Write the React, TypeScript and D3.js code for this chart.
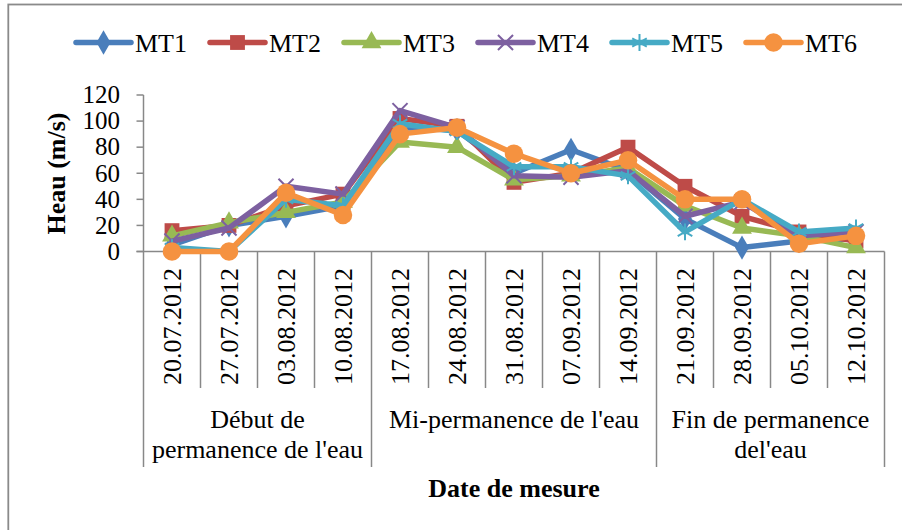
import React from "react";
import * as d3 from "d3";

const categories = [
  "20.07.2012", "27.07.2012", "03.08.2012", "10.08.2012", "17.08.2012",
  "24.08.2012", "31.08.2012", "07.09.2012", "14.09.2012", "21.09.2012",
  "28.09.2012", "05.10.2012", "12.10.2012",
];
const groups = [
  { lines: ["Début de", "permanence de l'eau"], start: 0, end: 4 },
  { lines: ["Mi-permanence de l'eau"], start: 4, end: 9 },
  { lines: ["Fin de permanence", "del'eau"], start: 9, end: 13 },
];
const seriesNames = ["MT1", "MT2", "MT3", "MT4", "MT5", "MT6"];
const MT1 = [5, 20, 27, 35, 95, 93, 60, 78, 62, 25, 3, 8, 10];
const MT2 = [16, 20, 35, 44, 102, 96, 53, 60, 80, 50, 27, 15, 8];
const MT3 = [12, 22, 30, 38, 84, 80, 55, 58, 64, 35, 18, 12, 3];
const MT4 = [8, 18, 50, 44, 108, 95, 58, 57, 62, 27, 38, 12, 15];
const MT5 = [3, 0, 40, 35, 98, 92, 65, 65, 58, 15, 40, 15, 18];
const MT6 = [0, 0, 45, 28, 90, 95, 75, 60, 70, 40, 40, 6, 12];
const seriesValues = [MT1, MT2, MT3, MT4, MT5, MT6];
const yTicks = [0, 20, 40, 60, 80, 100, 120];

const colors = ["#4A7EBB", "#BE4B48", "#98B954", "#7D60A0", "#46AAC5", "#F59240"];
const symX = (d3 as any).symbolTimes || (d3 as any).symbolX || d3.symbolCross;
const symAst = (d3 as any).symbolAsterisk || d3.symbolStar;
const symbols = [d3.symbolDiamond, d3.symbolSquare, d3.symbolTriangle, symX, symAst, d3.symbolCircle];
const symSizes = [170, 220, 170, 150, 200, 270];
const symStroke = [false, false, false, true, true, false];

const FONT = "Liberation Serif, serif";

export default function App() {
  const left = 143.5, right = 884.5, top = 95, bottom = 251.5;
  const x = d3.scaleBand<number>().domain(d3.range(categories.length)).range([left, right]);
  const y = d3.scaleLinear().domain([0, 120]).range([bottom, top]);
  const cx = (i: number) => (x(i) as number) + x.bandwidth() / 2;
  const line = d3.line<number>().x((_, i) => cx(i)).y((v) => y(v));
  const axisColor = "#888888";

  const legendStart = 76, legendStep = 134;

  return (
    <svg width={902} height={530} style={{ position: "absolute", left: 0, top: 0, background: "#fff", fontFamily: FONT }}>
      <rect x={0} y={0} width={902} height={530} fill="#fff" />
      <rect x={8.3} y={4.5} width={1000} height={1000} fill="none" stroke="#8a8a8a" strokeWidth={1.8} />

      {/* legend */}
      {seriesNames.map((name, k) => {
        const lx = legendStart + k * legendStep;
        const ly = 42.5;
        return (
          <g key={name}>
            <line x1={lx} x2={lx + 55} y1={ly} y2={ly} stroke={colors[k]} strokeWidth={5.5} strokeLinecap="round" />
            <path
              transform={`translate(${lx + 27.5},${ly})`}
              d={d3.symbol().type(symbols[k]).size(symSizes[k])() as string}
              fill={symStroke[k] ? "none" : colors[k]}
              stroke={symStroke[k] ? colors[k] : "none"}
              strokeWidth={2}
            />
            <text x={lx + 59} y={52} fontSize={26} fill="#000">{name}</text>
          </g>
        );
      })}

      {/* y axis */}
      <line x1={left} x2={left} y1={top} y2={bottom} stroke={axisColor} strokeWidth={1.5} />
      {yTicks.map((t) => (
        <g key={t}>
          <line x1={left - 7} x2={left} y1={y(t)} y2={y(t)} stroke={axisColor} strokeWidth={1.5} />
          <text x={120} y={y(t)} dy="0.33em" fontSize={25} textAnchor="end" fill="#000">{t}</text>
        </g>
      ))}
      <text transform={`translate(65,173.5) rotate(-90)`} fontSize={26} fontWeight="bold" textAnchor="middle" fill="#000">Heau (m/s)</text>

      {/* x axis */}
      <line x1={left - 7} x2={right} y1={bottom} y2={bottom} stroke={axisColor} strokeWidth={1.5} />
      {d3.range(categories.length + 1).map((i) => {
        const xx = i < categories.length ? (x(i) as number) : right;
        const isGroup = groups.some((g) => g.start === i) || i === categories.length;
        return (
          <line key={i} x1={xx} x2={xx} y1={bottom} y2={isGroup ? 467 : 388} stroke={axisColor} strokeWidth={1.5} />
        );
      })}
      {categories.map((c, i) => (
        <text key={c} transform={`translate(${cx(i)},268) rotate(-90)`} dy="0.33em" fontSize={26} textAnchor="end" fill="#000">{c}</text>
      ))}
      {groups.map((g) => {
        const gx0 = x(g.start) as number;
        const gx1 = g.end < categories.length ? (x(g.end) as number) : right;
        const mid = (gx0 + gx1) / 2;
        return (
          <text key={g.start} x={mid} y={428} fontSize={26} textAnchor="middle" fill="#000">
            {g.lines.map((l, j) => (
              <tspan key={j} x={mid} y={428 + j * 30}>{l}</tspan>
            ))}
          </text>
        );
      })}
      <text x={514} y={497} fontSize={26} fontWeight="bold" textAnchor="middle" fill="#000">Date de mesure</text>

      {/* series */}
      {seriesValues.map((vals, k) => (
        <g key={k}>
          <path d={line(vals) as string} fill="none" stroke={colors[k]} strokeWidth={5.5} strokeLinejoin="round" strokeLinecap="round" />
          {vals.map((v, i) => (
            <path
              key={i}
              transform={`translate(${cx(i)},${y(v)})`}
              d={d3.symbol().type(symbols[k]).size(symSizes[k])() as string}
              fill={symStroke[k] ? "none" : colors[k]}
              stroke={symStroke[k] ? colors[k] : "none"}
              strokeWidth={2}
            />
          ))}
        </g>
      ))}
    </svg>
  );
}
